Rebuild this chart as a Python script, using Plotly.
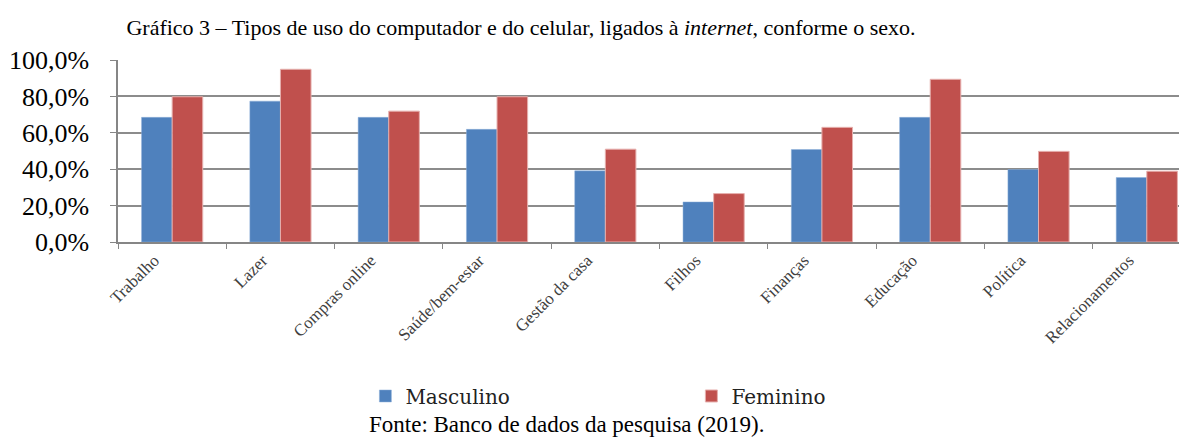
import plotly.graph_objects as go

categories = ["Trabalho", "Lazer", "Compras online", "Saúde/bem-estar", "Gestão da casa",
              "Filhos", "Finanças", "Educação", "Política", "Relacionamentos"]
masculino = [68.5, 77.4, 68.5, 61.9, 39.1, 22.0, 50.8, 68.5, 39.8, 35.4]
feminino = [79.8, 94.9, 71.9, 79.8, 51.0, 26.6, 63.0, 89.4, 49.8, 38.9]
y_tickvals = [0, 20, 40, 60, 80, 100]
y_ticktext = ["0,0%", "20,0%", "40,0%", "60,0%", "80,0%", "100,0%"]

SERIF = "Liberation Serif"

fig = go.Figure()
fig.add_trace(go.Bar(name="Masculino", x=categories, y=masculino,
                     marker=dict(color="#4F81BD", line=dict(color="#8FB0DA", width=0.5))))
fig.add_trace(go.Bar(name="Feminino", x=categories, y=feminino,
                     marker=dict(color="#C0504D", line=dict(color="#E6B0AE", width=1))))

fig.update_layout(
    width=1187, height=444,
    margin=dict(l=110, r=0, t=52, b=210, autoexpand=False),
    paper_bgcolor="white", plot_bgcolor="white",
    barmode="group", bargap=0.435, bargroupgap=0,
    font=dict(family=SERIF, color="black"),
    title=dict(text="Gráfico 3 – Tipos de uso do computador e do celular, ligados à <i>internet</i>, conforme o sexo.",
               x=513/1187, xanchor="center", y=1 - 19/444, yanchor="middle",
               font=dict(family=SERIF, size=22, color="black")),
    showlegend=True,
    legend=dict(orientation="h", x=0.2297, xanchor="left", y=-0.846, yanchor="middle",
                font=dict(family="DejaVu Serif", size=20, color="#222222"),
                entrywidth=281, entrywidthmode="pixels", itemwidth=30,
                bgcolor="rgba(0,0,0,0)"),
)
fig.update_xaxes(
    range=[-0.5, 9.445], showgrid=False, automargin=False,
    showline=True, linecolor="#868686", linewidth=1.5,
    ticks="outside", tickson="boundaries", ticklen=5, tickcolor="#868686",
    tickangle=-45, ticklabelshift=-18,
    tickfont=dict(family=SERIF, size=17, color="#404040"),
)
fig.update_yaxes(
    range=[0, 100], tickvals=y_tickvals, ticktext=y_ticktext, automargin=False,
    showgrid=True, gridcolor="#8C8C8C", gridwidth=1.5,
    showline=True, linecolor="#868686", linewidth=1.5,
    ticks="outside", ticklen=6, tickcolor="#868686", ticklabelstandoff=16,
    tickfont=dict(family=SERIF, size=26, color="black"), zeroline=False,
)
fig.add_annotation(text="Fonte: Banco de dados da pesquisa (2019).", xref="paper", yref="paper",
                   x=(558 - 110) / 1077, y=-1.005, xanchor="center", yanchor="middle",
                   showarrow=False, font=dict(family=SERIF, size=23, color="black"))

fig.write_html("out.html")
